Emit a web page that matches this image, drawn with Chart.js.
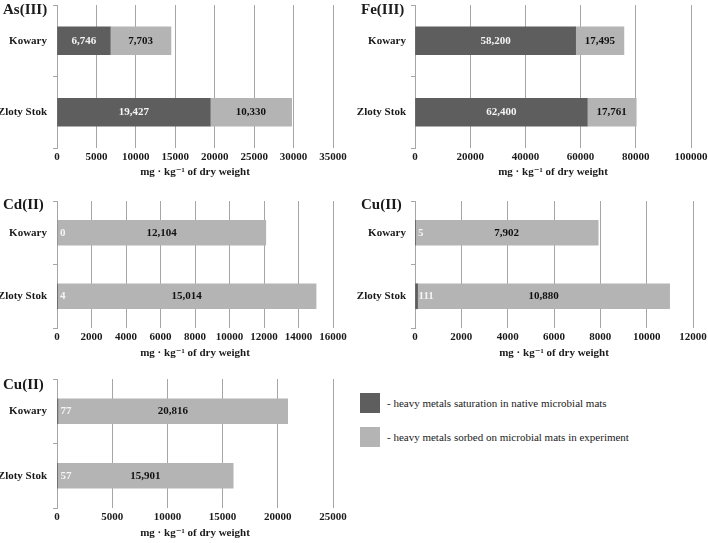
<!DOCTYPE html>
<html>
<head>
<meta charset="utf-8">
<script src="https://cdn.jsdelivr.net/npm/chart.js@4"></script>
<style>
  html, body { margin: 0; padding: 0; background: #fff; }
  body { width: 708px; height: 543px; position: relative; overflow: hidden; font-family: "Liberation Serif", "DejaVu Serif", serif; }
  canvas { position: absolute; }
  .ptitle { position: absolute; font-weight: bold; font-size: 15px; color: #1a1a1a; line-height: 1; }
  .sw { position: absolute; width: 20px; height: 20px; }
  .lt { position: absolute; font-size: 11px; color: #1a1a1a; line-height: 1; white-space: nowrap; }
</style>
</head>
<body>
<canvas id="c1" width="354" height="180" style="left:0;top:0"></canvas>
<canvas id="c2" width="354" height="180" style="left:354px;top:0"></canvas>
<canvas id="c3" width="354" height="180" style="left:0;top:180px"></canvas>
<canvas id="c4" width="354" height="180" style="left:354px;top:180px"></canvas>
<canvas id="c5" width="354" height="183" style="left:0;top:360px"></canvas>

<div class="ptitle" style="left:3px;top:2px">As(III)</div>
<div class="ptitle" style="left:361px;top:2px">Fe(III)</div>
<div class="ptitle" style="left:3px;top:197px">Cd(II)</div>
<div class="ptitle" style="left:361px;top:197px">Cu(II)</div>
<div class="ptitle" style="left:3px;top:377px">Cu(II)</div>

<div class="sw" style="left:360px;top:393px;background:#5e5e5e"></div>
<div class="lt" style="left:387px;top:398px">- heavy metals saturation in native microbial mats</div>
<div class="sw" style="left:360px;top:427px;background:#b4b4b4"></div>
<div class="lt" style="left:387px;top:432px">- heavy metals sorbed on microbial mats in experiment</div>

<script>
// ---- data ----
const categories = ['Kowary', 'Zloty Stok'];
const seriesNames = ['heavy metals saturation in native microbial mats', 'heavy metals sorbed on microbial mats in experiment'];

const asNative  = [6746, 19427];
const asSorbed  = [7703, 10330];
const feNative  = [58200, 62400];
const feSorbed  = [17495, 17761];
const cdNative  = [0, 4];
const cdSorbed  = [12104, 15014];
const cuNative  = [5, 111];
const cuSorbed  = [7902, 10880];
const cu2Native = [77, 57];
const cu2Sorbed = [20816, 15901];

const asTicks  = [0, 5000, 10000, 15000, 20000, 25000, 30000, 35000];
const feTicks  = [0, 20000, 40000, 60000, 80000, 100000];
const cdTicks  = [0, 2000, 4000, 6000, 8000, 10000, 12000, 14000, 16000];
const cuTicks  = [0, 2000, 4000, 6000, 8000, 10000, 12000];
const cu2Ticks = [0, 5000, 10000, 15000, 20000, 25000];

const axisTitle = 'mg \u00B7 kg\u207B\u00B9 of dry weight';

// ---- styling ----
const DARK = '#5e5e5e';
const LIGHT = '#b4b4b4';
const GRID = '#a6a6a6';
const TXT = '#1a1a1a';
const SERIF = '"Liberation Serif", "DejaVu Serif", serif';

const labelPlugin = {
  id: 'segLabels',
  afterDatasetsDraw(chart) {
    const ctx = chart.ctx;
    ctx.save();
    ctx.textBaseline = 'middle';
    chart.data.datasets.forEach((ds, di) => {
      const meta = chart.getDatasetMeta(di);
      meta.data.forEach((el, i) => {
        const v = ds.data[i];
        const txt = v.toLocaleString('en-US');
        const dark = di === 0;
        ctx.font = 'bold 11px ' + SERIF;
        ctx.fillStyle = dark ? '#f4f4f4' : '#111111';
        const w = ctx.measureText(txt).width;
        const x0 = Math.min(el.base, el.x), x1 = Math.max(el.base, el.x);
        if (x1 - x0 < w + 4) {
          ctx.textAlign = 'left';
          ctx.fillText(txt, x0 + 3, el.y);
        } else {
          ctx.textAlign = 'center';
          ctx.fillText(txt, (x0 + x1) / 2, el.y);
        }
      });
    });
    ctx.restore();
  }
};

function makeChart(id, nat, sor, ticks, o) {
  const max = ticks[ticks.length - 1];
  const step = ticks[1] - ticks[0];
  return new Chart(document.getElementById(id), {
    type: 'bar',
    data: {
      labels: categories,
      datasets: [
        { label: seriesNames[0], data: nat, backgroundColor: DARK, barThickness: o.bar, borderWidth: 0 },
        { label: seriesNames[1], data: sor, backgroundColor: LIGHT, barThickness: o.bar, borderWidth: 0 }
      ]
    },
    options: {
      indexAxis: 'y',
      responsive: false,
      animation: false,
      devicePixelRatio: 1,
      layout: { padding: { top: o.top, right: o.right, bottom: 0, left: 0 } },
      plugins: { legend: { display: false }, tooltip: { enabled: false }, title: { display: false } },
      scales: {
        x: {
          stacked: true,
          min: 0, max: max,
          afterBuildTicks: (s) => { s.ticks = ticks.map(v => ({ value: v })); },
          ticks: { stepSize: step, color: TXT, font: { family: SERIF, size: 11, weight: 'bold' }, padding: 3, maxRotation: 0, autoSkip: false,
                   callback: (v) => String(v) },
          grid: { color: GRID, lineWidth: 1, drawTicks: false },
          border: { display: false },
          title: { display: true, text: axisTitle, color: TXT, font: { family: SERIF, size: 11, weight: 'bold' }, padding: { top: 0, bottom: o.tpad } },
          afterFit: (s) => { s.height = o.xh; s.paddingLeft = 0; s.paddingRight = 0; }
        },
        y: {
          stacked: true,
          offset: true,
          ticks: { color: TXT, font: { family: SERIF, size: 11, weight: 'bold' }, padding: o.ypad },
          grid: { offset: true, drawOnChartArea: false, color: GRID, tickLength: 4 },
          border: { display: true, color: GRID },
          afterFit: (s) => { s.width = o.yw; s.paddingTop = 0; s.paddingBottom = 0; }
        }
      }
    },
    plugins: [labelPlugin]
  });
}

makeChart('c1', asNative, asSorbed, asTicks,   { bar: 28, top: 5,  right: 21, xh: 32, yw: 57, ypad: 6, tpad: 1 });
makeChart('c2', feNative, feSorbed, feTicks,   { bar: 28, top: 5,  right: 17, xh: 32, yw: 61, ypad: 5, tpad: 1 });
makeChart('c3', cdNative, cdSorbed, cdTicks,   { bar: 25, top: 21, right: 21, xh: 32, yw: 57, ypad: 6, tpad: 0 });
makeChart('c4', cuNative, cuSorbed, cuTicks,   { bar: 25, top: 21, right: 15, xh: 32, yw: 61, ypad: 5, tpad: 0 });
makeChart('c5', cu2Native, cu2Sorbed, cu2Ticks,{ bar: 25, top: 19, right: 21, xh: 35, yw: 57, ypad: 6, tpad: 3 });
</script>
</body>
</html>
